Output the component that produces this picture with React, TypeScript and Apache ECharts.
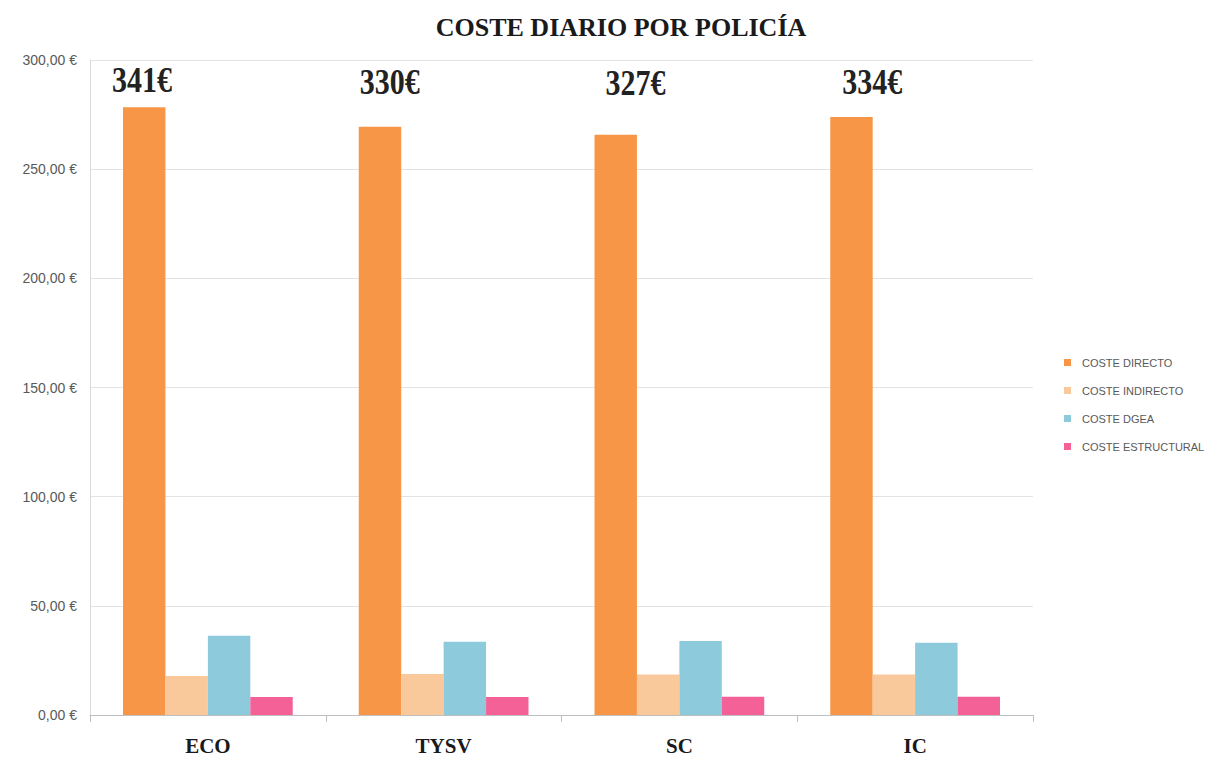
import React, { useEffect, useRef } from "react";
import * as echarts from "echarts";

const categories = ["ECO", "TYSV", "SC", "IC"];
const seriesNames = ["COSTE DIRECTO", "COSTE INDIRECTO", "COSTE DGEA", "COSTE ESTRUCTURAL"];
const costeDirecto = [278.4, 269.4, 265.8, 273.9];
const costeIndirecto = [17.9, 18.8, 18.6, 18.6];
const costeDgea = [36.3, 33.6, 33.9, 33.1];
const costeEstructural = [8.2, 8.2, 8.4, 8.4];
const totals = ["341€", "330€", "327€", "334€"];
const colors = ["#F79646", "#FAC99B", "#8DCADB", "#F36196"];

const GAP = 0.28;
// layout offsets of the total labels (pixels, relative to orange bar left edge / label row)
const LABEL_DX = [-11, 1, 11, 12];
const LABEL_DY = [-2, 0, 1, 0];

export default function App() {
  const ref = useRef<HTMLDivElement>(null);
  useEffect(() => {
    if (!ref.current) return;
    const chart = echarts.init(ref.current, undefined, { renderer: "svg" });
    const values = [costeDirecto, costeIndirecto, costeDgea, costeEstructural];
    chart.setOption({
      animation: false,
      backgroundColor: "#ffffff",
      title: {
        text: "COSTE DIARIO POR POLICÍA",
        left: 616,
        top: 9,
        textAlign: "center",
        textStyle: { fontFamily: "Liberation Serif", fontWeight: "bold", fontSize: 26, color: "#1a1a1a" },
      },
      legend: {
        orient: "vertical",
        left: 1059,
        top: 352,
        itemWidth: 7,
        itemHeight: 7,
        itemGap: 17,
        icon: "rect",
        textStyle: { fontFamily: "Liberation Sans", fontSize: 11, color: "#595959", padding: [0, 0, 0, 6] },
        data: seriesNames,
      },
      grid: { left: 90, right: 191, top: 60, bottom: 42 },
      xAxis: {
        type: "category",
        data: categories,
        axisLine: { lineStyle: { color: "#BFBFBF" } },
        axisTick: { show: true, length: 7, lineStyle: { color: "#BFBFBF" } },
        axisLabel: { fontFamily: "Liberation Serif", fontWeight: "bold", fontSize: 21, color: "#1a1a1a", margin: 20 },
      },
      yAxis: {
        type: "value",
        min: 0,
        max: 300,
        interval: 50,
        axisLine: { show: true, lineStyle: { color: "#D9D9D9" } },
        axisTick: { show: false },
        splitLine: { lineStyle: { color: "#E3E3E3" } },
        axisLabel: {
          fontFamily: "Liberation Sans",
          fontSize: 14,
          color: "#595959",
          margin: 13,
          formatter: (v: number) => v.toFixed(2).replace(".", ",") + " €",
        },
      },
      series: seriesNames.map((name, i) => ({
        name,
        type: "bar",
        data: values[i],
        barGap: "0%",
        barCategoryGap: GAP * 100 + "%",
        itemStyle: { color: colors[i] },
      })),
    });

    const c0 = chart.convertToPixel({ xAxisIndex: 0 }, 0) as number;
    const c1 = chart.convertToPixel({ xAxisIndex: 0 }, 1) as number;
    const band = c1 - c0;
    const barW = (band * (1 - GAP)) / 4;
    const yLab = chart.convertToPixel({ yAxisIndex: 0 }, 290) as number;
    chart.setOption({
      graphic: totals.map((t, i) => {
        const left = (chart.convertToPixel({ xAxisIndex: 0 }, i) as number) - 2 * barW;
        return {
          type: "text",
          x: left + LABEL_DX[i],
          y: yLab + LABEL_DY[i],
          scaleY: 1.2,
          style: {
            text: t,
            fontFamily: "Liberation Serif",
            fontWeight: "bold",
            fontSize: 30,
            fill: "#222222",
            align: "left",
            verticalAlign: "middle",
          },
        };
      }),
    });
    return () => chart.dispose();
  }, []);
  return <div ref={ref} style={{ position: "fixed", left: 0, top: 0, width: 1224, height: 757 }} />;
}
